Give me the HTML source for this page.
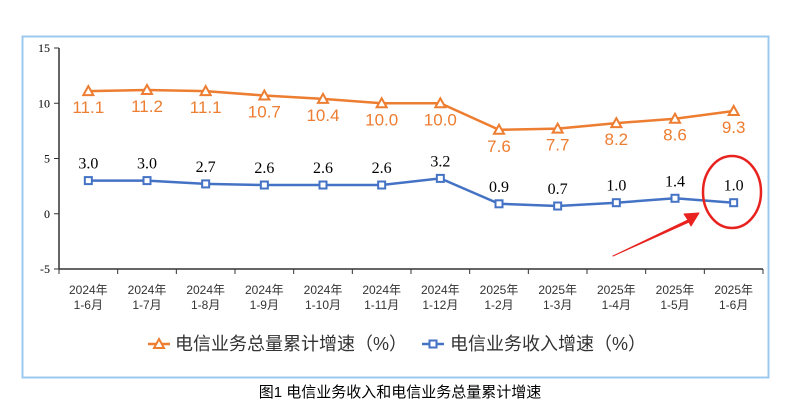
<!DOCTYPE html>
<html><head><meta charset="utf-8"><style>
body{margin:0;background:#fff;width:801px;height:410px;overflow:hidden;font-family:"Liberation Serif","Noto Serif CJK SC",serif}
</style></head><body>
<svg width="801" height="410">
<rect x="22.5" y="36.5" width="746" height="341" fill="none" stroke="#9cc8ef" stroke-width="2"/>
<g id="axes"></g><g id="series"></g>
<g font-family="'Liberation Sans','Noto Sans CJK SC',sans-serif" font-size="18" fill="#333">
<line x1="148" y1="344" x2="170" y2="344" stroke="#ed7d31" stroke-width="2.5"/>
<path d="M159,339 L164,348 L154,348Z" fill="#fff" stroke="#ed7d31" stroke-width="2"/>
<text x="175" y="350">电信业务总量累计增速（%）</text>
<line x1="422" y1="344" x2="444" y2="344" stroke="#4472c4" stroke-width="2.5"/>
<rect x="429.5" y="340.5" width="7" height="7" fill="#fff" stroke="#4472c4" stroke-width="2"/>
<text x="450" y="350">电信业务收入增速（%）</text>
</g>
<text x="400" y="397" text-anchor="middle" font-family="'Liberation Sans','Noto Sans CJK SC',sans-serif" font-size="15" fill="#000">图1 电信业务收入和电信业务总量累计增速</text>
<ellipse cx="732" cy="192" rx="29" ry="36" fill="none" stroke="#e8231f" stroke-width="2.5"/>
<path d="M613,256 L688,220 L684,214 L699,213 L691,226 L689,222Z" fill="#e8231f" stroke="#e8231f" stroke-width="1" stroke-linejoin="round"/>
</svg>
<script>
const categories=[["2024年","1-6月"],["2024年","1-7月"],["2024年","1-8月"],["2024年","1-9月"],["2024年","1-10月"],["2024年","1-11月"],["2024年","1-12月"],["2025年","1-2月"],["2025年","1-3月"],["2025年","1-4月"],["2025年","1-5月"],["2025年","1-6月"]];
const volumeGrowth=[11.1,11.2,11.1,10.7,10.4,10.0,10.0,7.6,7.7,8.2,8.6,9.3];
const revenueGrowth=[3.0,3.0,2.7,2.6,2.6,2.6,3.2,0.9,0.7,1.0,1.4,1.0];
const yTicks=[15,10,5,0,-5];
const NS="http://www.w3.org/2000/svg";
const x0=59,x1=763,yTop=48,yBot=269,yMin=-5,yMax=15;
const bw=(x1-x0)/categories.length;
const xs=i=>x0+bw*(i+0.5);
const ys=v=>yBot-(v-yMin)/(yMax-yMin)*(yBot-yTop);
function mk(tag,attrs,parent,text){const e=document.createElementNS(NS,tag);for(const k in attrs)e.setAttribute(k,attrs[k]);if(text!=null)e.textContent=text;parent.appendChild(e);return e;}
const ax=document.getElementById('axes');
let e=mk('line',{x1:x0,y1:yTop,x2:x0,y2:yBot,stroke:'#333','stroke-width':1.5},ax);


e=mk('line',{x1:x0,y1:yBot,x2:x1,y2:yBot,stroke:'#333','stroke-width':1.5},ax);


yTicks.forEach(t=>{mk('line',{x1:x0-5,y1:ys(t),x2:x0,y2:ys(t),stroke:'#333'},ax);
e=mk('text',{x:x0-9,y:ys(t)+4,'text-anchor':'end','font-size':12,fill:'#000'},ax,String(t));

});
for(let i=0;i<=categories.length;i++)mk('line',{x1:x0+bw*i,y1:yBot,x2:x0+bw*i,y2:yBot+5,stroke:'#333'},ax);
categories.forEach((c,i)=>{e=mk('text',{x:xs(i),y:yBot+25,'text-anchor':'middle','font-size':12,fill:'#333','font-family':"'Liberation Sans','Noto Sans CJK SC',sans-serif"},ax);


mk('tspan',{x:xs(i)},e,c[0]);mk('tspan',{x:xs(i),dy:15},e,c[1]);});
const sg=document.getElementById('series');
function series(data,color,name,marker,dy,lblColor,font,size){
 e=mk('polyline',{points:data.map((v,i)=>xs(i)+','+ys(v)).join(' '),fill:'none',stroke:color,'stroke-width':2.5},sg);
 
 
 data.forEach((v,i)=>{const x=xs(i),y=ys(v);
  if(marker==='tri')e=mk('path',{d:`M${x},${y-5} L${x+5},${y+4} L${x-5},${y+4}Z`,fill:'#fff',stroke:color,'stroke-width':2},sg);
  else e=mk('rect',{x:x-3.5,y:y-3.5,width:7,height:7,fill:'#fff',stroke:color,'stroke-width':2},sg);
  
  
  e=mk('text',{x:x,y:y+dy,'text-anchor':'middle','font-size':size,fill:lblColor,'font-family':font},sg,v.toFixed(1));
  
  });
}
series(volumeGrowth,'#ed7d31','volume-growth','tri',22,'#ed7d31',"'Liberation Sans',sans-serif",17);
series(revenueGrowth,'#4472c4','revenue-growth','sq',-12,'#000',"'Liberation Serif',serif",16);
</script>
</body></html>
